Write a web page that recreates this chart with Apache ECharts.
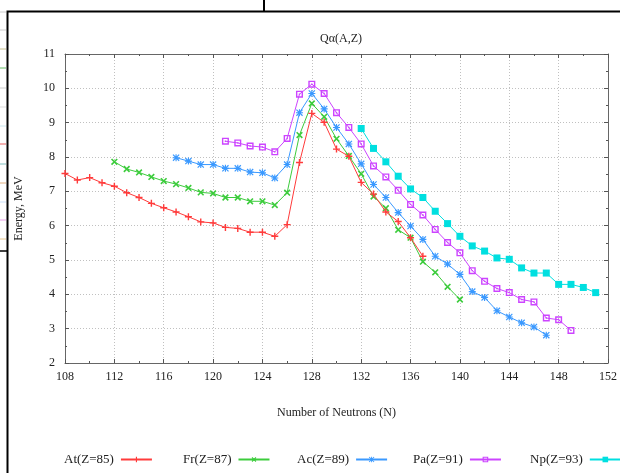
<!DOCTYPE html>
<html>
<head>
<meta charset="utf-8">
<script src="https://cdn.jsdelivr.net/npm/echarts@6/dist/echarts.min.js"></script>
<style>
html,body{margin:0;padding:0;background:#fff;}
#c{width:620px;height:473px;}
</style>
</head>
<body>
<div id="c"></div>
<script>
// ---- data ----
var xTicks = [108,112,116,120,124,128,132,136,140,144,148,152];
var seriesNames = ['At(Z=85)','Fr(Z=87)','Ac(Z=89)','Pa(Z=91)','Np(Z=93)'];
var atStartN = 108;
var atQ = [7.52,7.33,7.40,7.25,7.15,6.96,6.82,6.65,6.52,6.40,6.26,6.11,6.08,5.95,5.92,5.81,5.81,5.69,6.03,7.84,9.27,9.01,8.23,8.02,7.26,6.92,6.40,6.12,5.65,5.11];
var frStartN = 112;
var frQ = [7.86,7.65,7.55,7.42,7.30,7.21,7.10,6.97,6.94,6.82,6.82,6.71,6.71,6.60,6.96,8.64,9.56,9.17,8.53,8.03,7.51,6.85,6.51,5.88,5.65,4.95,4.64,4.22,3.85];
var acStartN = 117;
var acQ = [7.98,7.88,7.78,7.78,7.67,7.67,7.56,7.54,7.39,7.78,9.29,9.85,9.40,8.86,8.38,7.80,7.20,6.82,6.38,5.99,5.60,5.11,4.88,4.58,4.08,3.91,3.52,3.34,3.17,3.05,2.81];
var paStartN = 121;
var paQ = [8.46,8.41,8.32,8.29,8.15,8.54,9.83,10.12,9.85,9.29,8.86,8.38,7.74,7.42,7.03,6.62,6.31,5.89,5.51,5.21,4.69,4.38,4.17,4.05,3.85,3.78,3.31,3.26,2.95];
var npStartN = 132;
var npQ = [8.83,8.25,7.86,7.44,7.07,6.82,6.42,6.06,5.69,5.41,5.26,5.06,5.02,4.77,4.62,4.62,4.29,4.29,4.20,4.05];

function pairs(start, vals){ return vals.map(function(v,i){ return [start+i, v]; }); }

var FONT = 'Liberation Serif';
var colors = ['#ff3b3b','#3ccc3c','#3a99ff','#cc44ff','#00dfe0'];
var symPlus = 'path://M4,0h2v10h-2zM0,4h10v2h-10z';
var symStar = 'path://M4.2,0h1.6v10h-1.6zM0,4.2h10v1.6h-10zM1.2,0L10,8.8L8.8,10L0,1.2zM8.8,0L10,1.2L1.2,10L0,8.8z';
var symBox = 'path://M0,0h10v10h-10zM2,2v6h6v-6zM4,4h2v2h-2z';
var symbols = [symPlus, symPlus, symStar, symBox, 'rect'];
var rot = [0,45,0,0,0];
var sizes = [7,8,7,7,7];
var starts = [atStartN, frStartN, acStartN, paStartN, npStartN];
var vals = [atQ, frQ, acQ, paQ, npQ];

var series = seriesNames.map(function(n,i){
  return {
    name:n, type:'line', data:pairs(starts[i], vals[i]),
    symbol:symbols[i], symbolSize:sizes[i], symbolRotate:rot[i], showAllSymbol:true,
    lineStyle:{color:colors[i], width:1},
    itemStyle:{color:colors[i]},
    emphasis:{disabled:true}, animation:false, z:10-i
  };
});

var legendLeft = [59,178,292,408,525];
var legends = seriesNames.map(function(n,i){
  return {data:[n], left:legendLeft[i], top:448, align:'right', itemWidth:31, itemHeight:7,
    textStyle:{fontFamily:FONT, fontSize:13, color:'#222', padding:[0,2,0,0]}, selectedMode:false};
});

var chart = echarts.init(document.getElementById('c'), null, {renderer:'canvas'});
chart.setOption({
  animation:false,
  backgroundColor:'#fff',
  title:{text:'Qα(A,Z)', left:336, top:28, textAlign:'center',
    textStyle:{fontFamily:FONT, fontSize:12, fontWeight:'normal', color:'#222'}},
  legend:legends,
  grid:{left:65, top:54, right:12, bottom:110},
  xAxis:[
    {type:'value', min:108, max:152, interval:4, position:'bottom',
     name:'Number of Neutrons (N)', nameLocation:'middle', nameGap:44,
     nameTextStyle:{fontFamily:FONT, fontSize:12, color:'#222'},
     axisLine:{lineStyle:{color:'#666', width:1}},
     axisTick:{inside:true, length:4, lineStyle:{color:'#555'}},
     minorTick:{show:true, splitNumber:2, length:2, lineStyle:{color:'#555'}},
     axisLabel:{fontFamily:FONT, fontSize:12, color:'#222', margin:8, showMaxLabel:true},
     splitLine:{show:true, lineStyle:{color:'#c0c0c0', type:[1,2], width:1}}},
    {type:'value', min:108, max:152, interval:4, position:'top',
     axisLine:{lineStyle:{color:'#666', width:1}},
     axisTick:{inside:true, length:4, lineStyle:{color:'#555'}},
     minorTick:{show:true, splitNumber:2, length:2, lineStyle:{color:'#555'}},
     axisLabel:{show:false}, splitLine:{show:false}}
  ],
  yAxis:[
    {type:'value', min:2, max:11, interval:1, position:'left',
     name:'Energy, MeV', nameLocation:'middle', nameGap:40, nameRotate:90,
     nameTextStyle:{fontFamily:FONT, fontSize:12, color:'#222'},
     axisLine:{show:true, lineStyle:{color:'#666', width:1}},
     axisTick:{show:true, inside:true, length:4, lineStyle:{color:'#555'}},
     minorTick:{show:true, splitNumber:2, length:2, lineStyle:{color:'#555'}},
     axisLabel:{fontFamily:FONT, fontSize:12, color:'#222', margin:10},
     splitLine:{show:true, lineStyle:{color:'#c0c0c0', type:[1,2], width:1}}},
    {type:'value', min:2, max:11, interval:1, position:'right',
     axisLine:{show:true, lineStyle:{color:'#666', width:1}},
     axisTick:{show:true, inside:true, length:4, lineStyle:{color:'#555'}},
     minorTick:{show:true, splitNumber:2, length:2, lineStyle:{color:'#555'}},
     axisLabel:{show:false}, splitLine:{show:false}}
  ],
  series:series,
  graphic:[
    {type:'rect', shape:{x:7.5, y:11.5, width:620, height:470}, style:{fill:null, stroke:'#000', lineWidth:2}, silent:true, z:100},
    {type:'line', shape:{x1:264, y1:0, x2:264, y2:11}, style:{stroke:'#000', lineWidth:2}, z:100},
    {type:'line', shape:{x1:0, y1:251, x2:7, y2:251}, style:{stroke:'#000', lineWidth:1.5}, z:100},
    {type:'line', shape:{x1:0, y1:12, x2:6, y2:12}, style:{stroke:'#ccc', lineWidth:1}},
    {type:'line', shape:{x1:0, y1:30, x2:6, y2:30}, style:{stroke:'#ccc', lineWidth:1}},
    {type:'line', shape:{x1:0, y1:49, x2:6, y2:49}, style:{stroke:'#c8c090', lineWidth:1}},
    {type:'line', shape:{x1:0, y1:68, x2:6, y2:68}, style:{stroke:'#66bb66', lineWidth:1}},
    {type:'line', shape:{x1:0, y1:88, x2:6, y2:88}, style:{stroke:'#ccc', lineWidth:1}},
    {type:'line', shape:{x1:0, y1:107, x2:6, y2:107}, style:{stroke:'#ddd', lineWidth:1}},
    {type:'line', shape:{x1:0, y1:126, x2:6, y2:126}, style:{stroke:'#cce8f0', lineWidth:1}},
    {type:'line', shape:{x1:0, y1:144, x2:6, y2:144}, style:{stroke:'#e86060', lineWidth:1}},
    {type:'line', shape:{x1:0, y1:164, x2:6, y2:164}, style:{stroke:'#80c0c0', lineWidth:1}},
    {type:'line', shape:{x1:0, y1:183, x2:6, y2:183}, style:{stroke:'#e0b080', lineWidth:1}},
    {type:'line', shape:{x1:0, y1:202, x2:6, y2:202}, style:{stroke:'#cce0f8', lineWidth:1}},
    {type:'line', shape:{x1:0, y1:220, x2:6, y2:220}, style:{stroke:'#e8a0e8', lineWidth:1}},
    {type:'line', shape:{x1:0, y1:239, x2:6, y2:239}, style:{stroke:'#e8c890', lineWidth:1}}
  ]
});
</script>
</body>
</html>
